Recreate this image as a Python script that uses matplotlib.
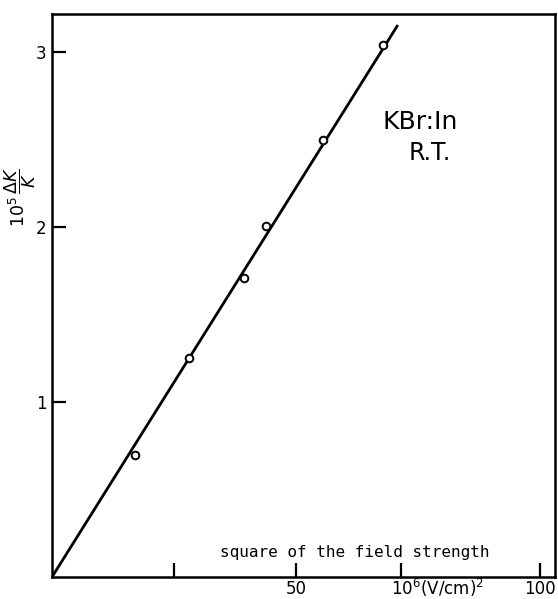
import numpy as np
import matplotlib
matplotlib.use('Agg')
import matplotlib.pyplot as plt

# measured points: square of field strength (10^6 (V/cm)^2) vs 10^5 dK/K
field_sq = [17.0, 28.1, 39.3, 43.9, 55.5, 67.8]
dk_over_k = [0.70, 1.25, 1.71, 2.01, 2.50, 3.04]

# fitted straight line through the origin
fit_x = [0.0, 70.7]
fit_y = [0.0, 3.15]

x_ticks = [25, 50, 71.5, 100]
x_ticklabels = ['', '50', '', '100']
y_ticks = [1, 2, 3]

plt.rcParams['font.family'] = ['DejaVu Sans']

fig = plt.figure(figsize=(5.58, 5.99), dpi=100, facecolor='w')
ax = fig.add_axes([0.0932, 0.0367, 0.901, 0.94])

ax.plot(fit_x, fit_y, '-', color='black', lw=2.0)
ax.plot(field_sq, dk_over_k, 'o', ms=5.5, mfc='white', mec='black', mew=1.4)

ax.set_xlim(0, 103)
ax.set_ylim(0, 3.22)

ax.set_xticks(x_ticks)
ax.set_xticklabels(x_ticklabels)
ax.set_yticks(y_ticks)
ax.tick_params(axis='both', direction='in', length=10, width=1.6, labelsize=12)
ax.tick_params(axis='x', pad=2)
ax.tick_params(axis='y', pad=4)
for sp in ax.spines.values():
    sp.set_linewidth(1.8)

ax.set_ylabel(r'$10^5\,\dfrac{\Delta K}{K}$', fontsize=12.5)
ax.yaxis.set_label_coords(-0.028, 0.675)

ax.text(0.732, 0.808, 'KBr:In', transform=ax.transAxes, fontsize=18, ha='center', va='center')
ax.text(0.752, 0.753, 'R.T.', transform=ax.transAxes, fontsize=17, ha='center', va='center')

ax.text(0.603, 0.043, 'square of the field strength', transform=ax.transAxes,
        fontsize=11.5, family='DejaVu Sans Mono', ha='center', va='center')
ax.text(0.766, -0.019, r'10$^6$(V/cm)$^2$', transform=ax.transAxes,
        fontsize=12, ha='center', va='center', clip_on=False)

plt.savefig('out.png', dpi=100, facecolor='w')
plt.close(fig)
